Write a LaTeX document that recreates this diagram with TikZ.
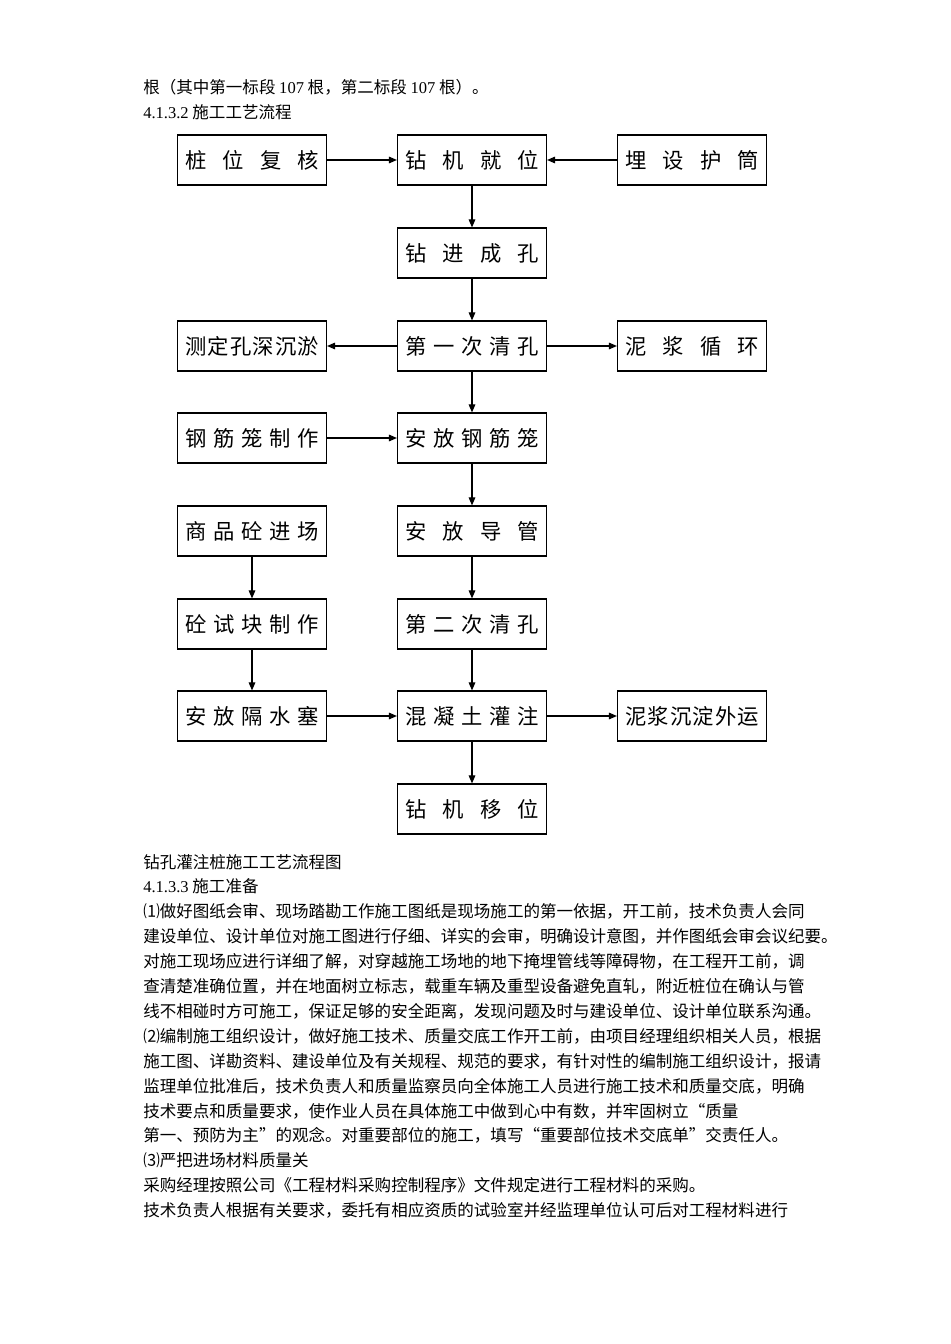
\documentclass[tikz,border=0pt]{standalone}
\usepackage{fontspec}
\setmainfont{Noto Sans CJK SC}
\newfontfamily\tnr{Liberation Serif}
\usetikzlibrary{arrows.meta}
\newcommand{\spreadtext}[1]{\makebox[100.5pt][s]{#1}}

\begin{document}
\begin{tikzpicture}[x=0.75pt, y=-0.75pt]
      \tikzstyle{stepbox}=[draw, line width=0.9pt, minimum width=111.75pt,
        minimum height=37.5pt, inner sep=0pt, font=\fontsize{16pt}{18pt}\selectfont]
      \tikzstyle{flow}=[line width=0.8pt, -{Triangle[length=6pt,width=5pt]}]
      \tikzstyle{bodyline}=[anchor=base west, inner sep=0pt,
        font=\fontsize{12.4pt}{15pt}\selectfont]
      \useasboundingbox (0,0) rectangle (950,1344);

      % text above the chart
      \node[bodyline] (pre) at (143,93.5) {根（其中第一标段 {\tnr 107} 根，第二标段 {\tnr 107} 根）。};
      \node[bodyline] (sec2) at (143,118.4) {{\tnr 4.1.3.2} 施工工艺流程};

      % first row
      \node[stepbox] (zw) at (252,160) {\spreadtext{桩\hfill 位\hfill 复\hfill 核}};
      \node[stepbox] (zj) at (472,160) {\spreadtext{钻\hfill 机\hfill 就\hfill 位}};
      \node[stepbox] (hu) at (692,160) {\spreadtext{埋\hfill 设\hfill 护\hfill 筒}};

      % drilling
      \node[stepbox] (zk) at (472,253) {\spreadtext{钻\hfill 进\hfill 成\hfill 孔}};

      % first cleaning
      \node[stepbox] (cd) at (252,346) {\spreadtext{测\hfill 定\hfill 孔\hfill 深\hfill 沉\hfill 淤}};
      \node[stepbox] (qk1) at (472,346) {\spreadtext{第\hfill 一\hfill 次\hfill 清\hfill 孔}};
      \node[stepbox] (nj) at (692,346) {\spreadtext{泥\hfill 浆\hfill 循\hfill 环}};

      % cage
      \node[stepbox] (gj) at (252,438) {\spreadtext{钢\hfill 筋\hfill 笼\hfill 制\hfill 作}};
      \node[stepbox] (ag) at (472,438) {\spreadtext{安\hfill 放\hfill 钢\hfill 筋\hfill 笼}};

      % pipe and concrete
      \node[stepbox] (sp) at (252,531) {\spreadtext{商\hfill 品\hfill 砼\hfill 进\hfill 场}};
      \node[stepbox] (dg) at (472,531) {\spreadtext{安\hfill 放\hfill 导\hfill 管}};
      \node[stepbox] (sk) at (252,624) {\spreadtext{砼\hfill 试\hfill 块\hfill 制\hfill 作}};
      \node[stepbox] (qk2) at (472,624) {\spreadtext{第\hfill 二\hfill 次\hfill 清\hfill 孔}};

      % pouring
      \node[stepbox] (gs) at (252,716) {\spreadtext{安\hfill 放\hfill 隔\hfill 水\hfill 塞}};
      \node[stepbox] (gz) at (472,716) {\spreadtext{混\hfill 凝\hfill 土\hfill 灌\hfill 注}};
      \node[stepbox] (yw) at (692,716) {\spreadtext{泥\hfill 浆\hfill 沉\hfill 淀\hfill 外\hfill 运}};
      \node[stepbox] (yd) at (472,809) {\spreadtext{钻\hfill 机\hfill 移\hfill 位}};

      % connectors
      \draw[flow] (zw) -- (zj);
      \draw[flow] (hu) -- (zj);
      \draw[flow] (zj) -- (zk);
      \draw[flow] (zk) -- (qk1);
      \draw[flow] (qk1) -- (cd);
      \draw[flow] (qk1) -- (nj);
      \draw[flow] (qk1) -- (ag);
      \draw[flow] (gj) -- (ag);
      \draw[flow] (ag) -- (dg);
      \draw[flow] (dg) -- (qk2);
      \draw[flow] (qk2) -- (gz);
      \draw[flow] (sp) -- (sk);
      \draw[flow] (sk) -- (gs);
      \draw[flow] (gs) -- (gz);
      \draw[flow] (gz) -- (yw);
      \draw[flow] (gz) -- (yd);

      % text below the chart
      \node[bodyline] (cap) at (143,868) {钻孔灌注桩施工工艺流程图};
      \node[bodyline] (sec3) at (143,892.9) {{\tnr 4.1.3.3} 施工准备};
      \node[bodyline] (p1a) at (143,917.8) {⑴做好图纸会审、现场踏勘工作施工图纸是现场施工的第一依据，开工前，技术负责人会同};
      \node[bodyline] (p1b) at (143,942.7) {建设单位、设计单位对施工图进行仔细、详实的会审，明确设计意图，并作图纸会审会议纪要。};
      \node[bodyline] (p1c) at (143,967.6) {对施工现场应进行详细了解，对穿越施工场地的地下掩埋管线等障碍物，在工程开工前，调};
      \node[bodyline] (p1d) at (143,992.5) {查清楚准确位置，并在地面树立标志，载重车辆及重型设备避免直轧，附近桩位在确认与管};
      \node[bodyline] (p1e) at (143,1017.4) {线不相碰时方可施工，保证足够的安全距离，发现问题及时与建设单位、设计单位联系沟通。};
      \node[bodyline] (p2a) at (143,1042.3) {⑵编制施工组织设计，做好施工技术、质量交底工作开工前，由项目经理组织相关人员，根据};
      \node[bodyline] (p2b) at (143,1067.2) {施工图、详勘资料、建设单位及有关规程、规范的要求，有针对性的编制施工组织设计，报请};
      \node[bodyline] (p2c) at (143,1092.1) {监理单位批准后，技术负责人和质量监察员向全体施工人员进行施工技术和质量交底，明确};
      \node[bodyline] (p2d) at (143,1117) {技术要点和质量要求，使作业人员在具体施工中做到心中有数，并牢固树立“质量};
      \node[bodyline] (p2e) at (143,1141.9) {第一、预防为主”的观念。对重要部位的施工，填写“重要部位技术交底单”交责任人。};
      \node[bodyline] (p3a) at (143,1166.8) {⑶严把进场材料质量关};
      \node[bodyline] (p3b) at (143,1191.7) {采购经理按照公司《工程材料采购控制程序》文件规定进行工程材料的采购。};
      \node[bodyline] (p3c) at (143,1216.6) {技术负责人根据有关要求，委托有相应资质的试验室并经监理单位认可后对工程材料进行};
\end{tikzpicture}
\end{document}
